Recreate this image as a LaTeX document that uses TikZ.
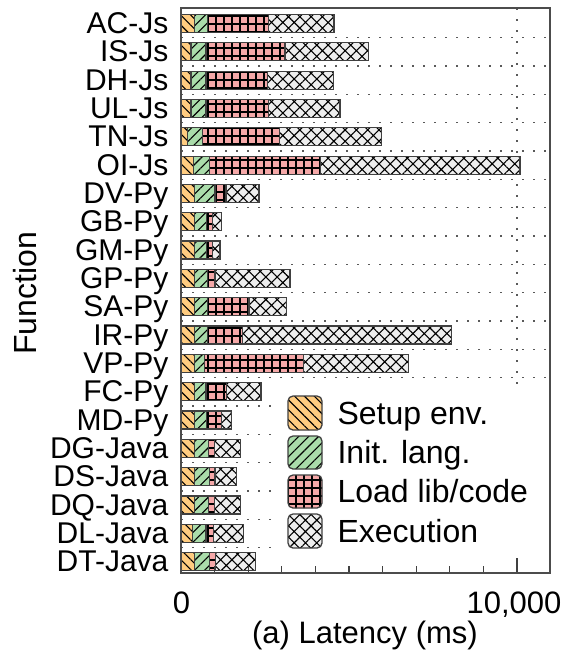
\documentclass[tikz,border=0pt]{standalone}
\usepackage{fontspec}
\setmainfont{Liberation Sans}
\usetikzlibrary{patterns.meta}
\definecolor{setupc}{RGB}{255,204,128}
\definecolor{initc}{RGB}{170,220,170}
\definecolor{loadc}{RGB}{245,168,168}
\definecolor{execc}{RGB}{238,238,238}
\begin{document}
\begin{tikzpicture}[x=1pt,y=-1pt,line width=1.2pt,
  bar/.style={draw=black!75,line width=1.3pt},
  setup/.style={bar,preaction={fill=setupc},pattern={Lines[angle=-45,distance=7pt,line width=1.1pt]}},
  init/.style={bar,preaction={fill=initc},pattern={Lines[angle=45,distance=7pt,line width=1.1pt]}},
  load/.style={bar,preaction={fill=loadc},pattern={Hatch[angle=0,distance=8pt,line width=1.1pt]}},
  exec/.style={bar,preaction={fill=execc},pattern={Hatch[angle=45,distance=8pt,line width=1.1pt]}},
  gridline/.style={black!65,line width=1.5pt,dash pattern=on 1.5pt off 9.5pt},
  lab/.style={font=\fontsize{30}{30}\selectfont,anchor=base east,inner sep=0pt},
  txt/.style={font=\fontsize{31}{31}\selectfont,inner sep=0pt}]
\useasboundingbox (0,0) rectangle (567,656);
% grid
\draw[gridline] (181,37.7)--(550,37.7) (181,66)--(550,66) (181,94.3)--(550,94.3) (181,122.7)--(550,122.7)
  (181,151)--(550,151) (181,179.3)--(550,179.3) (181,207.7)--(550,207.7) (181,236)--(550,236)
  (181,264.3)--(550,264.3) (181,292.7)--(550,292.7) (181,321)--(550,321) (181,349.3)--(550,349.3)
  (181,377.7)--(550,377.7) (181,406)--(550,406) (181,434.3)--(550,434.3) (181,462.7)--(550,462.7)
  (181,491)--(550,491) (181,519.3)--(550,519.3) (181,547.7)--(550,547.7);
\draw[gridline] (517,8)--(517,573);
\fill[white] (275,388) rectangle (548,558);
% bars
\path[setup] (181,14.5) rectangle (194.3,32.5); \path[init] (194.3,14.5) rectangle (207.3,32.5); \path[load] (207.3,14.5) rectangle (268.3,32.5); \path[exec] (268.3,14.5) rectangle (334,32.5);
\path[setup] (181,42.8) rectangle (191,60.8); \path[init] (191,42.8) rectangle (206,60.8); \path[load] (206,42.8) rectangle (285,60.8); \path[exec] (285,42.8) rectangle (368.3,60.8);
\path[setup] (181,71.2) rectangle (191,89.2); \path[init] (191,71.2) rectangle (206,89.2); \path[load] (206,71.2) rectangle (267.7,89.2); \path[exec] (267.7,71.2) rectangle (333.3,89.2);
\path[setup] (181,99.5) rectangle (191,117.5); \path[init] (191,99.5) rectangle (206,117.5); \path[load] (206,99.5) rectangle (268.7,117.5); \path[exec] (268.7,99.5) rectangle (340,117.5);
\path[setup] (181,127.8) rectangle (187.7,145.8); \path[init] (187.7,127.8) rectangle (202.3,145.8); \path[load] (202.3,127.8) rectangle (279.3,145.8); \path[exec] (279.3,127.8) rectangle (381.7,145.8);
\path[setup] (181,156.2) rectangle (193.3,174.2); \path[init] (193.3,156.2) rectangle (209.3,174.2); \path[load] (209.3,156.2) rectangle (320.7,174.2); \path[exec] (320.7,156.2) rectangle (520,174.2);
\path[setup] (181,184.5) rectangle (194.3,202.5); \path[init] (194.3,184.5) rectangle (215,202.5); \path[load] (215,184.5) rectangle (226,202.5); \path[exec] (226,184.5) rectangle (259,202.5);
\path[setup] (181,212.8) rectangle (194.3,230.8); \path[init] (194.3,212.8) rectangle (206.7,230.8); \path[load] (206.7,212.8) rectangle (212.7,230.8); \path[exec] (212.7,212.8) rectangle (221.7,230.8);
\path[setup] (181,241.1) rectangle (194.3,259.1); \path[init] (194.3,241.1) rectangle (206.7,259.1); \path[load] (206.7,241.1) rectangle (212.7,259.1); \path[exec] (212.7,241.1) rectangle (220,259.1);
\path[setup] (181,269.5) rectangle (194.3,287.5); \path[init] (194.3,269.5) rectangle (207.7,287.5); \path[load] (207.7,269.5) rectangle (215,287.5); \path[exec] (215,269.5) rectangle (290,287.5);
\path[setup] (181,297.8) rectangle (194.3,315.8); \path[init] (194.3,297.8) rectangle (207.3,315.8); \path[load] (207.3,297.8) rectangle (249,315.8); \path[exec] (249,297.8) rectangle (286.7,315.8);
\path[setup] (181,326.1) rectangle (194.3,344.1); \path[init] (194.3,326.1) rectangle (207.3,344.1); \path[load] (207.3,326.1) rectangle (242.3,344.1); \path[exec] (242.3,326.1) rectangle (451.7,344.1);
\path[setup] (181,354.5) rectangle (194.3,372.5); \path[init] (194.3,354.5) rectangle (204.3,372.5); \path[load] (204.3,354.5) rectangle (303.3,372.5); \path[exec] (303.3,354.5) rectangle (408.3,372.5);
\path[setup] (181,382.8) rectangle (194.3,400.8); \path[init] (194.3,382.8) rectangle (206,400.8); \path[load] (206,382.8) rectangle (226.7,400.8); \path[exec] (226.7,382.8) rectangle (261,400.8);
\path[setup] (181,411.1) rectangle (194.3,429.1); \path[init] (194.3,411.1) rectangle (206.7,429.1); \path[load] (206.7,411.1) rectangle (221.7,429.1); \path[exec] (221.7,411.1) rectangle (231.7,429.1);
\path[setup] (181,439.5) rectangle (194.3,457.5); \path[init] (194.3,439.5) rectangle (208.3,457.5); \path[load] (208.3,439.5) rectangle (214.3,457.5); \path[exec] (214.3,439.5) rectangle (240.7,457.5);
\path[setup] (181,467.8) rectangle (194.3,485.8); \path[init] (194.3,467.8) rectangle (209.3,485.8); \path[load] (209.3,467.8) rectangle (215,485.8); \path[exec] (215,467.8) rectangle (236.7,485.8);
\path[setup] (181,496.1) rectangle (194.3,514.1); \path[init] (194.3,496.1) rectangle (208.3,514.1); \path[load] (208.3,496.1) rectangle (214.3,514.1); \path[exec] (214.3,496.1) rectangle (240.7,514.1);
\path[setup] (181,524.4) rectangle (192.7,542.4); \path[init] (192.7,524.4) rectangle (206,542.4); \path[load] (206,524.4) rectangle (213.3,542.4); \path[exec] (213.3,524.4) rectangle (243.3,542.4);
\path[setup] (181,552.8) rectangle (194.3,570.8); \path[init] (194.3,552.8) rectangle (209.3,570.8); \path[load] (209.3,552.8) rectangle (215.7,570.8); \path[exec] (215.7,552.8) rectangle (255.7,570.8);
% axes
\draw[black!75] (214.6,573)--(214.6,566) (248.2,573)--(248.2,566) (281.8,573)--(281.8,566)
  (315.4,573)--(315.4,566) (349,573)--(349,566) (382.6,573)--(382.6,566) (416.2,573)--(416.2,566)
  (449.8,573)--(449.8,566) (483.4,573)--(483.4,566) (517,573)--(517,558);
\draw[black!70,line width=1.5pt] (181,8) rectangle (550,573);
\node[lab] (acjs) at (169,33.5) {AC-Js};
\node[lab] (isjs) at (169,61.8) {IS-Js};
\node[lab] (dhjs) at (169,90.2) {DH-Js};
\node[lab] (uljs) at (169,118.5) {UL-Js};
\node[lab] (tnjs) at (169,146.8) {TN-Js};
\node[lab] (oijs) at (169,175.2) {OI-Js};
\node[lab] (dvpy) at (169,203.5) {DV-Py};
\node[lab] (gbpy) at (169,231.8) {GB-Py};
\node[lab] (gmpy) at (169,260.1) {GM-Py};
\node[lab] (gppy) at (169,288.5) {GP-Py};
\node[lab] (sapy) at (169,316.8) {SA-Py};
\node[lab] (irpy) at (169,345.1) {IR-Py};
\node[lab] (vppy) at (169,373.5) {VP-Py};
\node[lab] (fcpy) at (169,401.8) {FC-Py};
\node[lab] (mdpy) at (169,430.1) {MD-Py};
\node[lab] (dgjava) at (169,458.5) {DG-Java};
\node[lab] (dsjava) at (169,486.8) {DS-Java};
\node[lab] (dqjava) at (169,515.1) {DQ-Java};
\node[lab] (dljava) at (169,543.4) {DL-Java};
\node[lab] (dtjava) at (169,571.8) {DT-Java};
\node[txt,anchor=base] (zero) at (181.5,613) {0};
\node[txt,anchor=base] (tenk) at (514,613) {10,000};
\node[txt,anchor=base] (xlab) at (365,643) {(a) Latency (ms)};
\node[txt,rotate=90,anchor=base,font=\fontsize{32}{32}\selectfont] (ylab) at (36,293.5) {Function};
% legend
\path[setup,rounded corners=5pt] (288,396) rectangle (322,430);
\path[init,rounded corners=5pt] (288,436) rectangle (322,469);
\path[load,rounded corners=5pt] (288,475) rectangle (322,508);
\path[exec,rounded corners=5pt] (288,514) rectangle (322,548);
\node[txt,anchor=base west,font=\fontsize{32}{32}\selectfont] (lgsetup) at (337,424) {Setup env.};
\node[txt,anchor=base west,font=\fontsize{32}{32}\selectfont] (lginit) at (337,463.5) {Init. lang.};
\node[txt,anchor=base west,font=\fontsize{32}{32}\selectfont] (lgload) at (337,502.5) {Load lib/code};
\node[txt,anchor=base west,font=\fontsize{32}{32}\selectfont] (lgexec) at (337,542) {Execution};
\end{tikzpicture}
\end{document}
